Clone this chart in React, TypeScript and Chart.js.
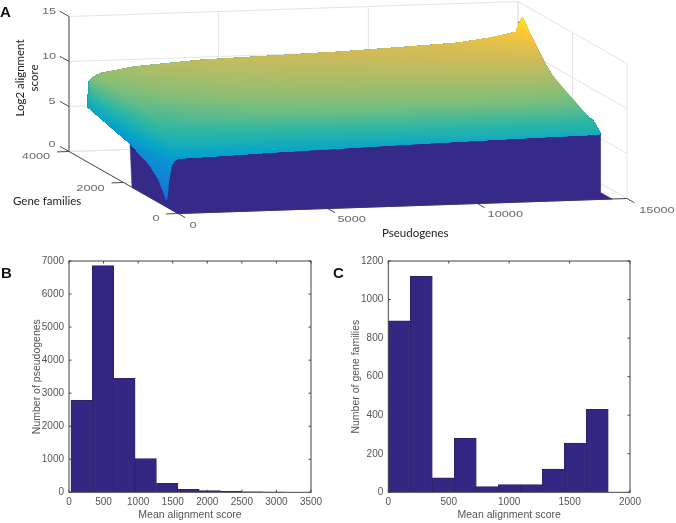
import React, { useEffect, useRef } from "react";
import { Chart, registerables } from "chart.js";

Chart.register(...registerables);

// Panel A: surface
const pseudogeneRanks = [0, 60, 150, 250, 400, 1500, 3740, 5980, 8420, 10660, 12330, 13440, 14310, 14500];
const familyRows = [419, 700, 1030, 1760, 2500, 3300];
const scoreAtRank0 = [0.8, 2.6, 3.6, 4.75, 5.4, 6.1];
const scoreAtRank60 = [2.9, 4.4, 5.4, 6.6, 7.6, 9.0];
const scoreAtRank150 = [4.6, 5.8, 6.5, 7.3, 8.2, 9.3];
const scoreAtRank250 = [5.15, 6.3, 7.1, 7.9, 8.7, 9.55];
const scoreAtRank400 = [5.4, 6.8, 7.6, 8.4, 9.1, 9.8];
const scoreAtRank1500 = [5.5, 7.1, 8.1, 9.0, 9.8, 10.4];
const scoreAtRank3740 = [5.75, 7.5, 8.6, 9.6, 10.3, 10.9];
const scoreAtRank5980 = [5.95, 7.7, 8.8, 9.9, 10.5, 11.1];
const scoreAtRank8420 = [6.15, 7.9, 9.0, 10.0, 10.7, 11.3];
const scoreAtRank10660 = [6.3, 8.0, 9.1, 10.2, 10.9, 11.6];
const scoreAtRank12330 = [6.4, 8.0, 9.1, 10.3, 11.1, 11.85];
const scoreAtRank13440 = [6.45, 8.0, 9.0, 10.3, 11.3, 12.3];
const scoreAtRank14310 = [6.5, 7.9, 8.7, 10.0, 11.4, 12.85];
const scoreAtRank14500 = [6.55, 7.5, 7.8, 8.5, 10.9, 14.5];
const scoreTable = [
  scoreAtRank0, scoreAtRank60, scoreAtRank150, scoreAtRank250, scoreAtRank400, scoreAtRank1500, scoreAtRank3740,
  scoreAtRank5980, scoreAtRank8420, scoreAtRank10660, scoreAtRank12330, scoreAtRank13440,
  scoreAtRank14310, scoreAtRank14500,
];
// dark floor and wall under the surface: [pseudogene, family, score]
const wallCorners = [
  [0, 0, 0], [14500, 0, 0], [14500, 419, 0], [14500, 419, 6.55], [400, 419, 5.4], [0, 1760, 4.75], [0, 1688, 0], [0, 0, 0],
];
const pseudogeneTicks = [0, 5000, 10000, 15000];
const familyTicks = [0, 2000, 4000];
const scoreTicks = [0, 5, 10, 15];

// Panels B and C: histograms
const binCentersB = [183, 492, 801, 1110, 1419, 1728, 2037, 2346, 2655, 2964];
const countsB = [2780, 6860, 3450, 1020, 270, 90, 50, 30, 12, 8];
const binCentersC = [91, 273, 455, 637, 819, 1001, 1183, 1365, 1547, 1729];
const countsC = [890, 1120, 75, 280, 30, 40, 40, 120, 255, 430];

const parulaStops = [
  [53, 42, 135], [15, 92, 221], [20, 129, 214], [6, 164, 202], [46, 183, 164],
  [135, 191, 119], [209, 187, 89], [254, 200, 50], [249, 251, 14],
];

function parula(t: number) {
  const p = Math.max(0, Math.min(0.9999, t)) * (parulaStops.length - 1);
  const i = Math.floor(p);
  const f = p - i;
  const c = parulaStops[i].map((v, k) => Math.round(v + (parulaStops[i + 1][k] - v) * f));
  return `rgb(${c[0]},${c[1]},${c[2]})`;
}

function project(x: number, y: number, z: number) {
  return { x: 178 + 0.02993 * x - 0.02725 * y, y: 213.5 - 0.001 * x - 0.0155 * y - 9 * z };
}

function lineSet(pts: number[][], color: string, width: number, order: number) {
  return {
    data: pts.map((p) => project(p[0], p[1], p[2])),
    showLine: true, pointRadius: 0, borderColor: color, borderWidth: width, fill: false, order,
  };
}

function surfaceSets() {
  // finer mesh for painting between the read columns
  const cols: { x: number; z: number[] }[] = [];
  for (let i = 0; i < pseudogeneRanks.length - 1; i++) {
    const sub = 8;
    for (let s = 0; s < sub; s++) {
      const f = s / sub;
      cols.push({
        x: pseudogeneRanks[i] + (pseudogeneRanks[i + 1] - pseudogeneRanks[i]) * f,
        z: scoreTable[i].map((v, k) => v + (scoreTable[i + 1][k] - v) * f),
      });
    }
  }
  cols.push({ x: pseudogeneRanks[pseudogeneRanks.length - 1], z: scoreTable[scoreTable.length - 1] });

  const sets: any[] = [];
  let order = 500;
  const last = familyRows.length - 1;
  // part of a column that lies above a level, from the level up to the back row
  const upperPart = (c: { x: number; z: number[] }, L: number) => {
    const out: { x: number; y: number }[] = [];
    for (let k = 0; k <= last; k++) if (c.z[k] > L) out.push(project(c.x, familyRows[k], c.z[k]));
    return out;
  };
  for (let L = 0.6; L < 14.5; L += 0.14) {
    const front: { x: number; y: number }[] = [];
    const back: { x: number; y: number }[] = [];
    const used: { x: number; z: number[] }[] = [];
    for (const c of cols) {
      if (c.z[last] <= L) continue;
      let y = familyRows[0];
      let z = c.z[0];
      if (L > c.z[0]) {
        for (let k = 0; k < last; k++) {
          if (L >= c.z[k] && L <= c.z[k + 1]) {
            y = familyRows[k] + ((L - c.z[k]) / (c.z[k + 1] - c.z[k])) * (familyRows[k + 1] - familyRows[k]);
            z = L;
            break;
          }
        }
      }
      front.push(project(c.x, y, z));
      back.unshift(project(c.x, familyRows[last], c.z[last]));
      used.push(c);
    }
    if (front.length < 2) continue;
    const rightEnd = upperPart(used[used.length - 1], L);
    const leftEnd = upperPart(used[0], L).reverse();
    // the low spike beside the wall stays a bright blue in the picture
    const shade = L < 4.7 ? 2.6 + L * 0.447 : L;
    const col = parula(shade / 15);
    sets.push({
      data: [...front, ...rightEnd, ...back, ...leftEnd, front[0]],
      showLine: true, pointRadius: 0, borderColor: col, borderWidth: 0.6,
      backgroundColor: col, fill: "shape", order: order--,
    });
  }
  return sets;
}

const gridColor = "#e4e4e4";
const axisColor = "#4a4a4a";

function frameSets() {
  const sets: any[] = [];
  const X = 15000, Y = 4000, Z = 15;
  for (const z of scoreTicks) {
    sets.push(lineSet([[0, Y, z], [X, Y, z]], gridColor, 1, 1000));
    sets.push(lineSet([[X, Y, z], [X, 0, z]], gridColor, 1, 1000));
  }
  for (const x of pseudogeneTicks) {
    sets.push(lineSet([[x, Y, 0], [x, Y, Z]], gridColor, 1, 1000));
    sets.push(lineSet([[x, 0, 0], [x, Y, 0]], gridColor, 1, 1000));
  }
  for (const y of familyTicks) {
    sets.push(lineSet([[X, y, 0], [X, y, Z]], gridColor, 1, 1000));
    sets.push(lineSet([[0, y, 0], [X, y, 0]], gridColor, 1, 1000));
  }
  sets.push(lineSet([[0, Y, 0], [0, Y, Z]], axisColor, 1, 900));
  sets.push(lineSet([[0, Y, 0], [0, 0, 0]], axisColor, 1, 900));
  sets.push(lineSet([[0, 0, 0], [X, 0, 0]], axisColor, 1, 900));
  for (const z of scoreTicks) sets.push(lineSet([[0, Y, z], [0, Y + 330, z]], axisColor, 1, 900));
  for (const y of familyTicks) sets.push(lineSet([[0, y, 0], [-400, y, 0]], axisColor, 1, 900));
  for (const x of pseudogeneTicks) sets.push(lineSet([[x, 0, 0], [x, -270, 0]], axisColor, 1, 900));
  return sets;
}

const wallSet = () => ({
  data: wallCorners.map((p) => project(p[0], p[1], p[2])),
  showLine: true, pointRadius: 0, borderColor: "rgb(53,42,135)", borderWidth: 0.6,
  backgroundColor: "rgb(53,42,135)", fill: "shape", order: 800,
});

const tickLabelPlugin = {
  id: "tickLabels3d",
  afterDatasetsDraw(chart: any) {
    const { ctx, scales } = chart;
    const put = (txt: string, p: { x: number; y: number }, dx: number, dy: number) => {
      ctx.save();
      ctx.translate(scales.x.getPixelForValue(p.x) + dx, scales.y.getPixelForValue(p.y) + dy);
      ctx.scale(1.5, 1);
      ctx.font = '8.5px "Liberation Sans"';
      ctx.fillStyle = "#6a6a6a";
      ctx.textAlign = "center";
      ctx.textBaseline = "middle";
      ctx.fillText(txt, 0, 0);
      ctx.restore();
    };
    for (const z of scoreTicks) put(String(z), project(0, 4000, z), z >= 10 ? -20 : -17, z === 0 ? -7 : -5);
    put("4000", project(0, 4000, 0), -33, 5);
    put("2000", project(0, 2000, 0), -33, 6);
    put("0", project(0, 0, 0), -22, 5);
    put("0", project(0, 0, 0), 15, 12.5);
    put("5000", project(5000, 0, 0), 24, 11);
    put("10000", project(10000, 0, 0), 28, 11);
    put("15000", project(15000, 0, 0), 30, 12);
  },
};

const boxPlugin = {
  id: "matlabBox",
  afterDraw(chart: any) {
    const { ctx, chartArea: a, scales } = chart;
    ctx.save();
    ctx.strokeStyle = "#444";
    ctx.lineWidth = 1;
    ctx.strokeRect(a.left, a.top, a.right - a.left, a.bottom - a.top);
    ctx.beginPath();
    scales.x.ticks.forEach((t: any) => {
      const px = scales.x.getPixelForValue(t.value);
      ctx.moveTo(px, a.bottom); ctx.lineTo(px, a.bottom - 2.5);
      ctx.moveTo(px, a.top); ctx.lineTo(px, a.top + 2.5);
    });
    scales.y.ticks.forEach((t: any) => {
      const py = scales.y.getPixelForValue(t.value);
      ctx.moveTo(a.left, py); ctx.lineTo(a.left + 2.5, py);
      ctx.moveTo(a.right, py); ctx.lineTo(a.right - 2.5, py);
    });
    ctx.stroke();
    ctx.restore();
  },
};

function histogram(
  canvas: HTMLCanvasElement, centers: number[], counts: number[], xMax: number, xStep: number,
  yMax: number, yStep: number, yTitle: string, yAxisW: number, rightPad: number, yTitlePad: number,
) {
  const tickFont = { family: '"Liberation Sans"', size: 10 };
  return new Chart(canvas, {
    type: "bar",
    data: {
      datasets: [{
        data: centers.map((x, i) => ({ x, y: counts[i] })),
        backgroundColor: "rgb(50,40,132)",
        borderColor: "#2b2260",
        borderWidth: 0.8,
        barPercentage: 1,
        categoryPercentage: 1,
      }],
    },
    options: {
      animation: false,
      responsive: false,
      layout: { padding: { top: 5.3, right: rightPad, left: 0, bottom: 0 } },
      plugins: { legend: { display: false }, tooltip: { enabled: false } },
      scales: {
        x: {
          type: "linear", offset: false, min: 0, max: xMax,
          grid: { display: false, offset: false, drawTicks: false },
          border: { display: false },
          ticks: { stepSize: xStep, font: tickFont, color: "#555", padding: 4, maxRotation: 0, autoSkip: false, includeBounds: true, callback: (v: any) => String(v) },
          title: { display: true, text: "Mean alignment score", color: "#555", font: { family: '"Liberation Sans"', size: 10.5 }, padding: { top: 0, bottom: 2 } },
          afterFit(s: any) { s.height = 30.7; },
        },
        y: {
          min: 0, max: yMax,
          grid: { display: false, drawTicks: false },
          border: { display: false },
          ticks: { stepSize: yStep, font: tickFont, color: "#555", padding: 5, autoSkip: false, callback: (v: any) => String(v) },
          title: { display: true, text: yTitle, color: "#555", font: { family: '"Liberation Sans"', size: 10.5 }, padding: { top: yTitlePad, bottom: 0 } },
          afterFit(s: any) { s.width = yAxisW; },
        },
      },
    } as any,
    plugins: [boxPlugin],
  });
}

const sideText = (extra: React.CSSProperties): React.CSSProperties => ({
  position: "absolute", fontFamily: "Lato", fontSize: 11.5, color: "#222", whiteSpace: "nowrap", lineHeight: "14px", ...extra,
});
const panelLetter = (left: number, top: number): React.CSSProperties => ({
  position: "absolute", left, top, fontFamily: '"Liberation Sans"', fontWeight: 700, fontSize: 15, lineHeight: "16px", color: "#111",
});
const soft = "blur(0.35px)";

export default function App() {
  const refA = useRef<HTMLCanvasElement>(null);
  const refB = useRef<HTMLCanvasElement>(null);
  const refC = useRef<HTMLCanvasElement>(null);

  useEffect(() => {
    document.body.style.margin = "0";
    document.body.style.background = "#fff";
    const a = new Chart(refA.current!, {
      type: "scatter",
      data: { datasets: [...frameSets(), wallSet(), ...surfaceSets()] as any },
      options: {
        animation: false,
        responsive: false,
        layout: { padding: 0 },
        plugins: { legend: { display: false }, tooltip: { enabled: false } },
        scales: {
          x: { type: "linear", min: 0, max: 676, display: false },
          y: { type: "linear", min: 0, max: 245, reverse: true, display: false },
        },
      } as any,
      plugins: [tickLabelPlugin],
    });
    const b = histogram(refB.current!, binCentersB, countsB, 3500, 500, 7000, 1000, "Number of pseudogenes", 69, 27, 31);
    const c = histogram(refC.current!, binCentersC, countsC, 2000, 500, 1200, 200, "Number of gene families", 50.3, 46, 11.7);
    return () => { a.destroy(); b.destroy(); c.destroy(); };
  }, []);

  return (
    <div style={{ position: "absolute", left: 0, top: 0, width: 676, height: 523, background: "#fff", overflow: "hidden" }}>
      <canvas ref={refA} width={676} height={245} style={{ position: "absolute", left: 0, top: 0, width: 676, height: 245, filter: soft }} />
      <canvas ref={refB} width={338} height={273} style={{ position: "absolute", left: 0, top: 250, width: 338, height: 273, filter: soft }} />
      <canvas ref={refC} width={338} height={273} style={{ position: "absolute", left: 338, top: 250, width: 338, height: 273, filter: soft }} />
      <div style={panelLetter(0, 4)}>A</div>
      <div style={panelLetter(1, 265)}>B</div>
      <div style={panelLetter(333, 265)}>C</div>
      <div style={sideText({ left: 20, top: 78, transform: "translate(-50%,-50%) rotate(-90deg)" })}>Log2 alignment</div>
      <div style={sideText({ left: 34, top: 78, transform: "translate(-50%,-50%) rotate(-90deg)" })}>score</div>
      <div style={sideText({ left: 13, top: 194 })}>Gene families</div>
      <div style={sideText({ left: 382, top: 226 })}>Pseudogenes</div>
    </div>
  );
}
